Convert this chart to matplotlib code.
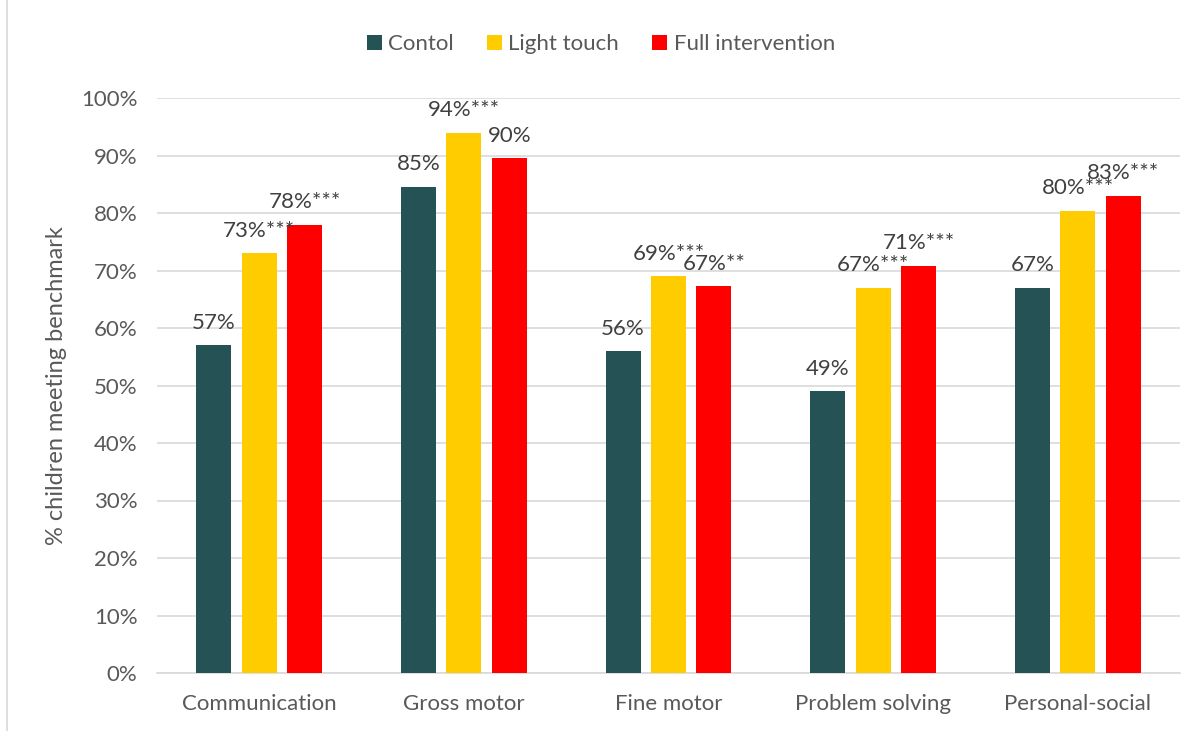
import numpy as np
import matplotlib.pyplot as plt
from matplotlib.patches import Rectangle

# ----------------------------------------------------------------------------------------------------------------------
# data
# ----------------------------------------------------------------------------------------------------------------------

categories = ['Communication', 'Gross motor', 'Fine motor', 'Problem solving', 'Personal-social']
series_names = ['Contol', 'Light touch', 'Full intervention']
control = [57.0, 84.6, 56.0, 49.0, 67.0]
light_touch = [73.0, 94.0, 69.0, 67.0, 80.4]
full_intervention = [78.0, 89.5, 67.3, 70.8, 83.0]
control_labels = ['57%', '85%', '56%', '49%', '67%']
light_labels = ['73%***', '94%***', '69%***', '67%***', '80%***']
full_labels = ['78%***', '90%', '67%**', '71%***', '83%***']

colors = ['#255254', '#FFCC00', '#FF0000']
text_col = '#595959'

plt.rcParams['font.family'] = ['Lato', 'DejaVu Sans']

fig = plt.figure(figsize=(12.02, 7.31), dpi=100)
ax = fig.add_axes([157 / 1202, 58 / 731, 1023 / 1202, 575 / 731])

x = np.arange(len(categories))
width = 0.171
step = 0.222

all_values = [control, light_touch, full_intervention]
all_labels = [control_labels, light_labels, full_labels]

for i, (vals, labs) in enumerate(zip(all_values, all_labels)):
    pos = x + (i - 1) * step
    bars = ax.bar(pos, vals, width, color=colors[i], label=series_names[i], zorder=3)
    for b, lab in zip(bars, labs):
        ax.annotate(lab, (b.get_x() + b.get_width() / 2, b.get_height()),
                    xytext=(0, 9), textcoords='offset points',
                    ha='center', va='bottom', fontsize=16, color='#404040', zorder=4)

ax.set_xlim(-0.5, 4.5)
ax.set_ylim(0, 100)
ax.set_yticks(np.arange(0, 101, 10))
ax.set_yticklabels([f'{v}%' for v in range(0, 101, 10)])
ax.set_xticks(x)
ax.set_xticklabels(categories)
ax.tick_params(axis='both', length=0, labelsize=16, colors=text_col)
ax.tick_params(axis='x', pad=15)
ax.tick_params(axis='y', pad=14)
ax.grid(axis='y', color='#D9D9D9', linewidth=1.2, zorder=0)
for s in ['top', 'right', 'left']:
    ax.spines[s].set_visible(False)
ax.spines['bottom'].set_color('#D9D9D9')
ax.spines['bottom'].set_linewidth(1.2)

ax.set_ylabel('% children meeting benchmark', fontsize=17, color=text_col, labelpad=10)

fig.legend(loc='center', bbox_to_anchor=(0.5, 1 - 44 / 731), ncol=3, frameon=False,
           fontsize=16, labelcolor=text_col, handlelength=0.65, handleheight=0.65,
           handletextpad=0.3, columnspacing=1.5)

fig.patches.append(Rectangle((7 / 1202, -0.01), 1.2, 1.2, transform=fig.transFigure,
                             fill=False, edgecolor='#D9D9D9', linewidth=1.2))

fig.savefig('out.png', dpi=100)
